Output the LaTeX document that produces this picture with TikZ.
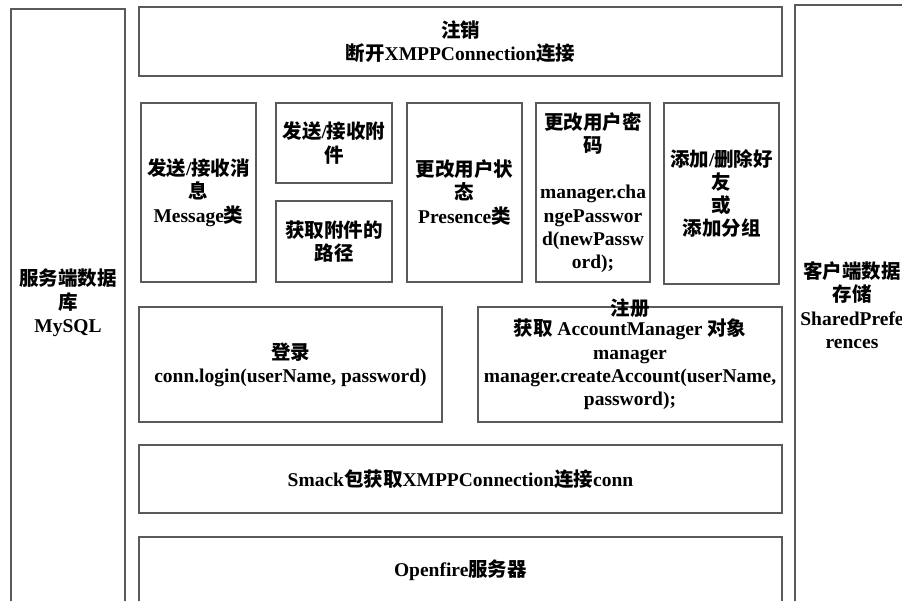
\documentclass[tikz,border=0pt]{standalone}
\usepackage{fontspec}
\setmainfont{Liberation Serif}
\newfontfamily\cjk{Noto Sans CJK SC}
\newcommand\zh[1]{{\cjk #1}}
\definecolor{linegray}{HTML}{5A5A5A}
\begin{document}
\begin{tikzpicture}[x=1pt,y=-1pt,
    blk/.style={draw=linegray,line width=1.1pt,align=center,inner sep=0pt,
      font=\fontsize{19.5}{23.3}\selectfont\bfseries},
    lbl/.style={align=center,inner sep=0pt,font=\fontsize{19.5}{23.3}\selectfont\bfseries}]
  \useasboundingbox[fill=white] (0,0) rectangle (902,600);

  % side columns
  \node[blk,minimum width=114pt,minimum height=595pt] (server) at (68,306.5) {};
  \node[lbl] (servertxt) at (68,303) {\zh{服务端数据}\\\zh{库}\\MySQL};
  \node[blk,minimum width=114pt,minimum height=599pt] (client) at (852,304.5) {};
  \node[lbl] (clienttxt) at (852,305) {\zh{客户端数据}\\\zh{存储}\\SharedPrefe\\rences};

  % top
  \node[blk,minimum width=643pt,minimum height=69pt] (logout) at (460.5,41.5)
    {\zh{注销}\\\zh{断开}XMPPConnection\zh{连接}};

  % function row
  \node[blk,minimum width=115pt,minimum height=179pt] (message) at (198.5,192.5)
    {\zh{发送}/\zh{接收消}\\\zh{息}\\Message\zh{类}};
  \node[blk,minimum width=116pt,minimum height=80pt] (attach) at (334,143)
    {\zh{发送}/\zh{接收附}\\\zh{件}};
  \node[blk,minimum width=116pt,minimum height=81pt] (path) at (334,241.5)
    {\zh{获取附件的}\\\zh{路径}};
  \node[blk,minimum width=115pt,minimum height=179pt] (presence) at (464.5,192.5)
    {\zh{更改用户状}\\\zh{态}\\Presence\zh{类}};
  \node[blk,minimum width=114pt,minimum height=179pt] (passwd) at (593,192.5)
    {\zh{更改用户密}\\\zh{码}\\[23pt]manager.cha\\ngePasswor\\d(newPassw\\ord);};
  \node[blk,minimum width=115pt,minimum height=181pt] (friend) at (721.5,193.5)
    {\zh{添加}/\zh{删除好}\\\zh{友}\\\zh{或}\\\zh{添加分组}};

  % login / register
  \node[blk,minimum width=303pt,minimum height=115pt] (login) at (290.5,364.5)
    {\zh{登录}\\conn.login(userName, password)};
  \node[blk,minimum width=304pt,minimum height=115pt] (register) at (630,364.5)
    {\zh{获取} AccountManager \zh{对象}\\manager\\manager.createAccount(userName,\\password);};
  \node[lbl] (registerlbl) at ([yshift=-2pt]register.north) {\zh{注册}};

  % bottom layers
  \node[blk,minimum width=643pt,minimum height=68pt] (smack) at (460.5,479)
    {Smack\zh{包获取}XMPPConnection\zh{连接}conn};
  \node[blk,minimum width=643pt,minimum height=67pt] (openfire) at (460.5,570.5)
    {Openfire\zh{服务器}};
\end{tikzpicture}
\end{document}
